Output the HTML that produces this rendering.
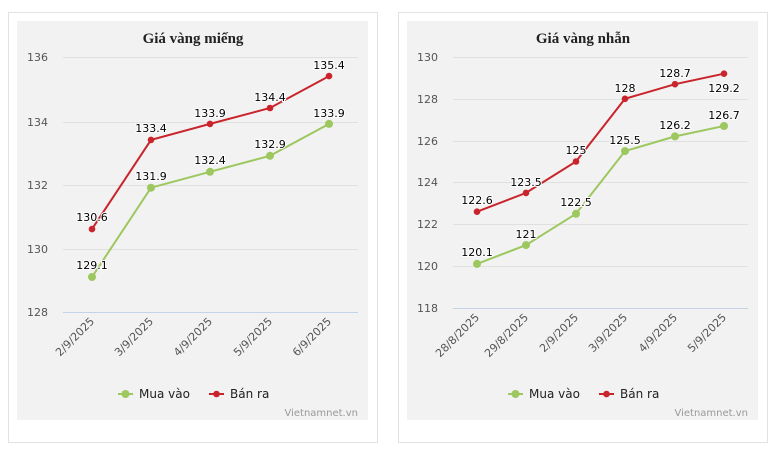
<!DOCTYPE html>
<html><head><meta charset="utf-8"><style>
html,body{margin:0;padding:0;background:#fff;width:778px;height:453px;overflow:hidden}
svg{display:block;font-family:"DejaVu Sans","Liberation Sans",sans-serif}
.yl{font-size:11px;fill:#555;text-anchor:end}
.xl{font-size:11px;fill:#555;text-anchor:end}
.dl{font-size:11px;fill:#000;text-anchor:middle;stroke:#fff;stroke-width:2px;paint-order:stroke}
.t{font-family:"Liberation Serif",serif;font-weight:bold;font-size:15px;fill:#222;text-anchor:middle}
.lg{font-size:12px;fill:#222}
.wm{font-size:10px;fill:#999;text-anchor:end}
</style></head><body>
<svg width="778" height="453" viewBox="0 0 778 453">
<rect x="8.5" y="12.5" width="369" height="430" fill="#fff" stroke="#e2e2e2"/>
<rect x="17" y="21" width="351" height="399" fill="#f2f2f2"/>
<rect x="398.5" y="12.5" width="369" height="430" fill="#fff" stroke="#e2e2e2"/>
<rect x="407" y="21" width="351" height="399" fill="#f2f2f2"/>

<!-- LEFT -->
<text class="t" x="193" y="43">Giá vàng miếng</text>
<g stroke="#e0e0e0"><line x1="63" x2="358" y1="57.5" y2="57.5"/><line x1="63" x2="358" y1="122.5" y2="122.5"/><line x1="63" x2="358" y1="185.5" y2="185.5"/><line x1="63" x2="358" y1="249.5" y2="249.5"/></g>
<line x1="63" x2="358" y1="312.5" y2="312.5" stroke="#c3d3e8"/>
<g class="yl"><text x="48" y="61">136</text><text x="48" y="126">134</text><text x="48" y="189">132</text><text x="48" y="253">130</text><text x="48" y="316">128</text></g>
<g class="xl">
<text transform="translate(95,322) rotate(-45)">2/9/2025</text>
<text transform="translate(154,322) rotate(-45)">3/9/2025</text>
<text transform="translate(213,322) rotate(-45)">4/9/2025</text>
<text transform="translate(273,322) rotate(-45)">5/9/2025</text>
<text transform="translate(332,322) rotate(-45)">6/9/2025</text>
</g>
<polyline points="92,277 151,187.7 210,171.8 270,155.8 329,123.9" fill="none" stroke="#9dc75f" stroke-width="2"/>
<g fill="#9dc75f"><circle cx="92" cy="277" r="4"/><circle cx="151" cy="187.7" r="4"/><circle cx="210" cy="171.8" r="4"/><circle cx="270" cy="155.8" r="4"/><circle cx="329" cy="123.9" r="4"/></g>
<polyline points="92,229.1 151,139.9 210,123.9 270,108 329,76.1" fill="none" stroke="#c9242b" stroke-width="2"/>
<g fill="#c9242b"><circle cx="92" cy="229.1" r="3.3"/><circle cx="151" cy="139.9" r="3.3"/><circle cx="210" cy="123.9" r="3.3"/><circle cx="270" cy="108" r="3.3"/><circle cx="329" cy="76.1" r="3.3"/></g>
<g class="dl">
<text x="92" y="269">129.1</text><text x="151" y="180">131.9</text><text x="210" y="164">132.4</text><text x="270" y="148">132.9</text><text x="329" y="117">133.9</text>
<text x="92" y="221">130.6</text><text x="151" y="132">133.4</text><text x="210" y="117">133.9</text><text x="270" y="101">134.4</text><text x="329" y="69">135.4</text>
</g>
<line x1="118" x2="133" y1="394" y2="394" stroke="#9dc75f" stroke-width="2"/><circle cx="125.5" cy="394" r="4" fill="#9dc75f"/>
<text class="lg" x="139" y="398">Mua vào</text>
<line x1="209" x2="224" y1="394" y2="394" stroke="#c9242b" stroke-width="2"/><circle cx="216.5" cy="394" r="3.3" fill="#c9242b"/>
<text class="lg" x="230" y="398">Bán ra</text>
<text class="wm" x="358" y="416">Vietnamnet.vn</text>

<!-- RIGHT -->
<text class="t" x="583" y="43">Giá vàng nhẫn</text>
<g stroke="#e0e0e0"><line x1="453" x2="748" y1="57.5" y2="57.5"/><line x1="453" x2="748" y1="99.5" y2="99.5"/><line x1="453" x2="748" y1="141.5" y2="141.5"/><line x1="453" x2="748" y1="182.5" y2="182.5"/><line x1="453" x2="748" y1="224.5" y2="224.5"/><line x1="453" x2="748" y1="266.5" y2="266.5"/></g>
<line x1="453" x2="748" y1="308.5" y2="308.5" stroke="#c3d3e8"/>
<g class="yl"><text x="438" y="61">130</text><text x="438" y="103">128</text><text x="438" y="145">126</text><text x="438" y="186">124</text><text x="438" y="228">122</text><text x="438" y="270">120</text><text x="438" y="312">118</text></g>
<g class="xl">
<text transform="translate(480,318) rotate(-45)">28/8/2025</text>
<text transform="translate(529,318) rotate(-45)">29/8/2025</text>
<text transform="translate(579,318) rotate(-45)">2/9/2025</text>
<text transform="translate(628,318) rotate(-45)">3/9/2025</text>
<text transform="translate(678,318) rotate(-45)">4/9/2025</text>
<text transform="translate(727,318) rotate(-45)">5/9/2025</text>
</g>
<polyline points="477,263.9 526,245.1 576,213.8 625,151.1 675,136.4 724,126" fill="none" stroke="#9dc75f" stroke-width="2"/>
<g fill="#9dc75f"><circle cx="477" cy="263.9" r="4"/><circle cx="526" cy="245.1" r="4"/><circle cx="576" cy="213.8" r="4"/><circle cx="625" cy="151.1" r="4"/><circle cx="675" cy="136.4" r="4"/><circle cx="724" cy="126" r="4"/></g>
<polyline points="477,211.7 526,192.9 576,161.5 625,98.8 675,84.2 724,73.7" fill="none" stroke="#c9242b" stroke-width="2"/>
<g fill="#c9242b"><circle cx="477" cy="211.7" r="3.3"/><circle cx="526" cy="192.9" r="3.3"/><circle cx="576" cy="161.5" r="3.3"/><circle cx="625" cy="98.8" r="3.3"/><circle cx="675" cy="84.2" r="3.3"/><circle cx="724" cy="73.7" r="3.3"/></g>
<g class="dl">
<text x="477" y="256">120.1</text><text x="526" y="238">121</text><text x="576" y="206">122.5</text><text x="625" y="144">125.5</text><text x="675" y="129">126.2</text><text x="724" y="119">126.7</text>
<text x="477" y="204">122.6</text><text x="526" y="186">123.5</text><text x="576" y="154">125</text><text x="625" y="92">128</text><text x="675" y="77">128.7</text><text x="724" y="92">129.2</text>
</g>
<line x1="508" x2="523" y1="394" y2="394" stroke="#9dc75f" stroke-width="2"/><circle cx="515.5" cy="394" r="4" fill="#9dc75f"/>
<text class="lg" x="529" y="398">Mua vào</text>
<line x1="599" x2="614" y1="394" y2="394" stroke="#c9242b" stroke-width="2"/><circle cx="606.5" cy="394" r="3.3" fill="#c9242b"/>
<text class="lg" x="620" y="398">Bán ra</text>
<text class="wm" x="748" y="416">Vietnamnet.vn</text>
</svg>
</body></html>
